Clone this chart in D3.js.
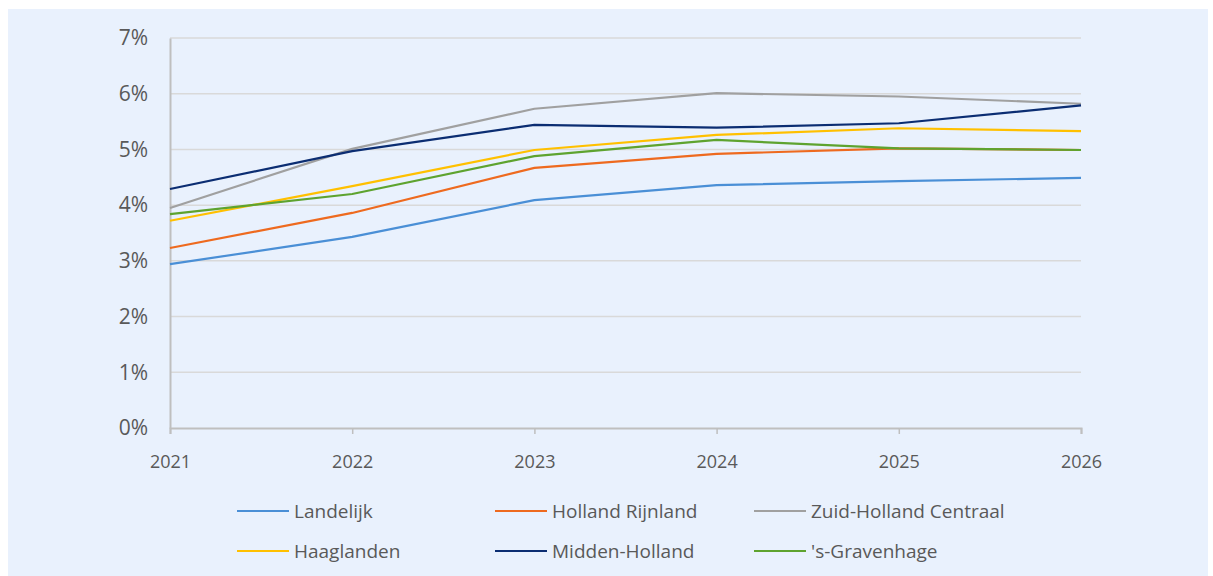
<!DOCTYPE html>
<html>
<head>
<meta charset="utf-8">
<script src="https://cdn.jsdelivr.net/npm/d3@7"></script>
<style>
html,body{margin:0;padding:0;background:#fff;}
svg{display:block;}
</style>
</head>
<body>
<svg id="chart" width="1213" height="576"></svg>
<script>
const years = [2021, 2022, 2023, 2024, 2025, 2026];
const yTicks = [0, 1, 2, 3, 4, 5, 6, 7];
const seriesNames = ["Landelijk", "Holland Rijnland", "Zuid-Holland Centraal", "Haaglanden", "Midden-Holland", "'s-Gravenhage"];
const landelijk = [2.94, 3.43, 4.09, 4.36, 4.43, 4.49];
const hollandRijnland = [3.23, 3.86, 4.67, 4.92, 5.02, 4.99];
const zuidHollandCentraal = [3.95, 5.01, 5.73, 6.01, 5.95, 5.82];
const haaglanden = [3.72, 4.34, 4.99, 5.26, 5.38, 5.33];
const middenHolland = [4.29, 4.97, 5.44, 5.39, 5.47, 5.79];
const sGravenhage = [3.84, 4.20, 4.88, 5.17, 5.02, 4.99];
const colors = ["#4A8FD6", "#EE6A1F", "#A0A0A0", "#FFC000", "#0B2D72", "#5EA32F"];

const seriesValues = [landelijk, hollandRijnland, zuidHollandCentraal, haaglanden, middenHolland, sGravenhage];
const series = seriesNames.map((n, i) => ({name: n, values: seriesValues[i], color: colors[i]}));

const svg = d3.select("#chart");
svg.append("rect").attr("x", 8).attr("y", 9).attr("width", 1200).attr("height", 567).attr("fill", "#E9F1FD");

const x = d3.scalePoint().domain(years).range([170, 1081]);
const y = d3.scaleLinear().domain([0, 7]).range([428, 38]);

const font = "'Open Sans', 'Noto Sans', sans-serif";
const textColor = "#595959";

// gridlines
svg.append("g").selectAll("line").data(yTicks.filter(d => d > 0)).join("line")
  .attr("x1", 170).attr("x2", 1081)
  .attr("y1", d => y(d)).attr("y2", d => y(d))
  .attr("stroke", "#D9D9D9").attr("stroke-width", 1.5);

// y axis
const yAxis = svg.append("g").attr("transform", "translate(170,0)")
  .call(d3.axisLeft(y).tickValues(yTicks).tickFormat(d => d + "%").tickSize(0).tickPadding(22));
yAxis.select(".domain").attr("stroke", "#BFBFBF").attr("stroke-width", 2);
yAxis.selectAll("text").attr("font-family", font).attr("font-size", 21).attr("fill", textColor);

// x axis
const xAxis = svg.append("g").attr("transform", "translate(0,428)")
  .call(d3.axisBottom(x).tickSize(6).tickSizeOuter(6).tickPadding(21));
xAxis.select(".domain").attr("stroke", "#BFBFBF").attr("stroke-width", 2);
xAxis.selectAll(".tick line").attr("stroke", "#BFBFBF").attr("stroke-width", 1.5);
xAxis.selectAll("text").attr("font-family", font).attr("font-size", 18).attr("fill", textColor);

// lines
const line = d3.line().x((d, i) => x(years[i])).y(d => y(d));
svg.append("g").selectAll("path").data(series).join("path")
  .attr("d", d => line(d.values))
  .attr("fill", "none")
  .attr("stroke", d => d.color)
  .attr("stroke-width", 2.2)
  .attr("stroke-linejoin", "round");

// legend
const legendCols = [237, 495, 754];
const legendRows = [511, 551];
const lg = svg.append("g").selectAll("g").data(series).join("g")
  .attr("transform", (d, i) => `translate(${legendCols[i % 3]},${legendRows[Math.floor(i / 3)]})`);
lg.append("line").attr("x1", 0).attr("x2", 52).attr("y1", 0).attr("y2", 0)
  .attr("stroke", d => d.color).attr("stroke-width", 2.2);
lg.append("text").attr("x", 57).attr("y", 0).attr("dy", "0.35em")
  .attr("font-family", font).attr("font-size", 19).attr("fill", textColor)
  .text(d => d.name);
</script>
</body>
</html>
